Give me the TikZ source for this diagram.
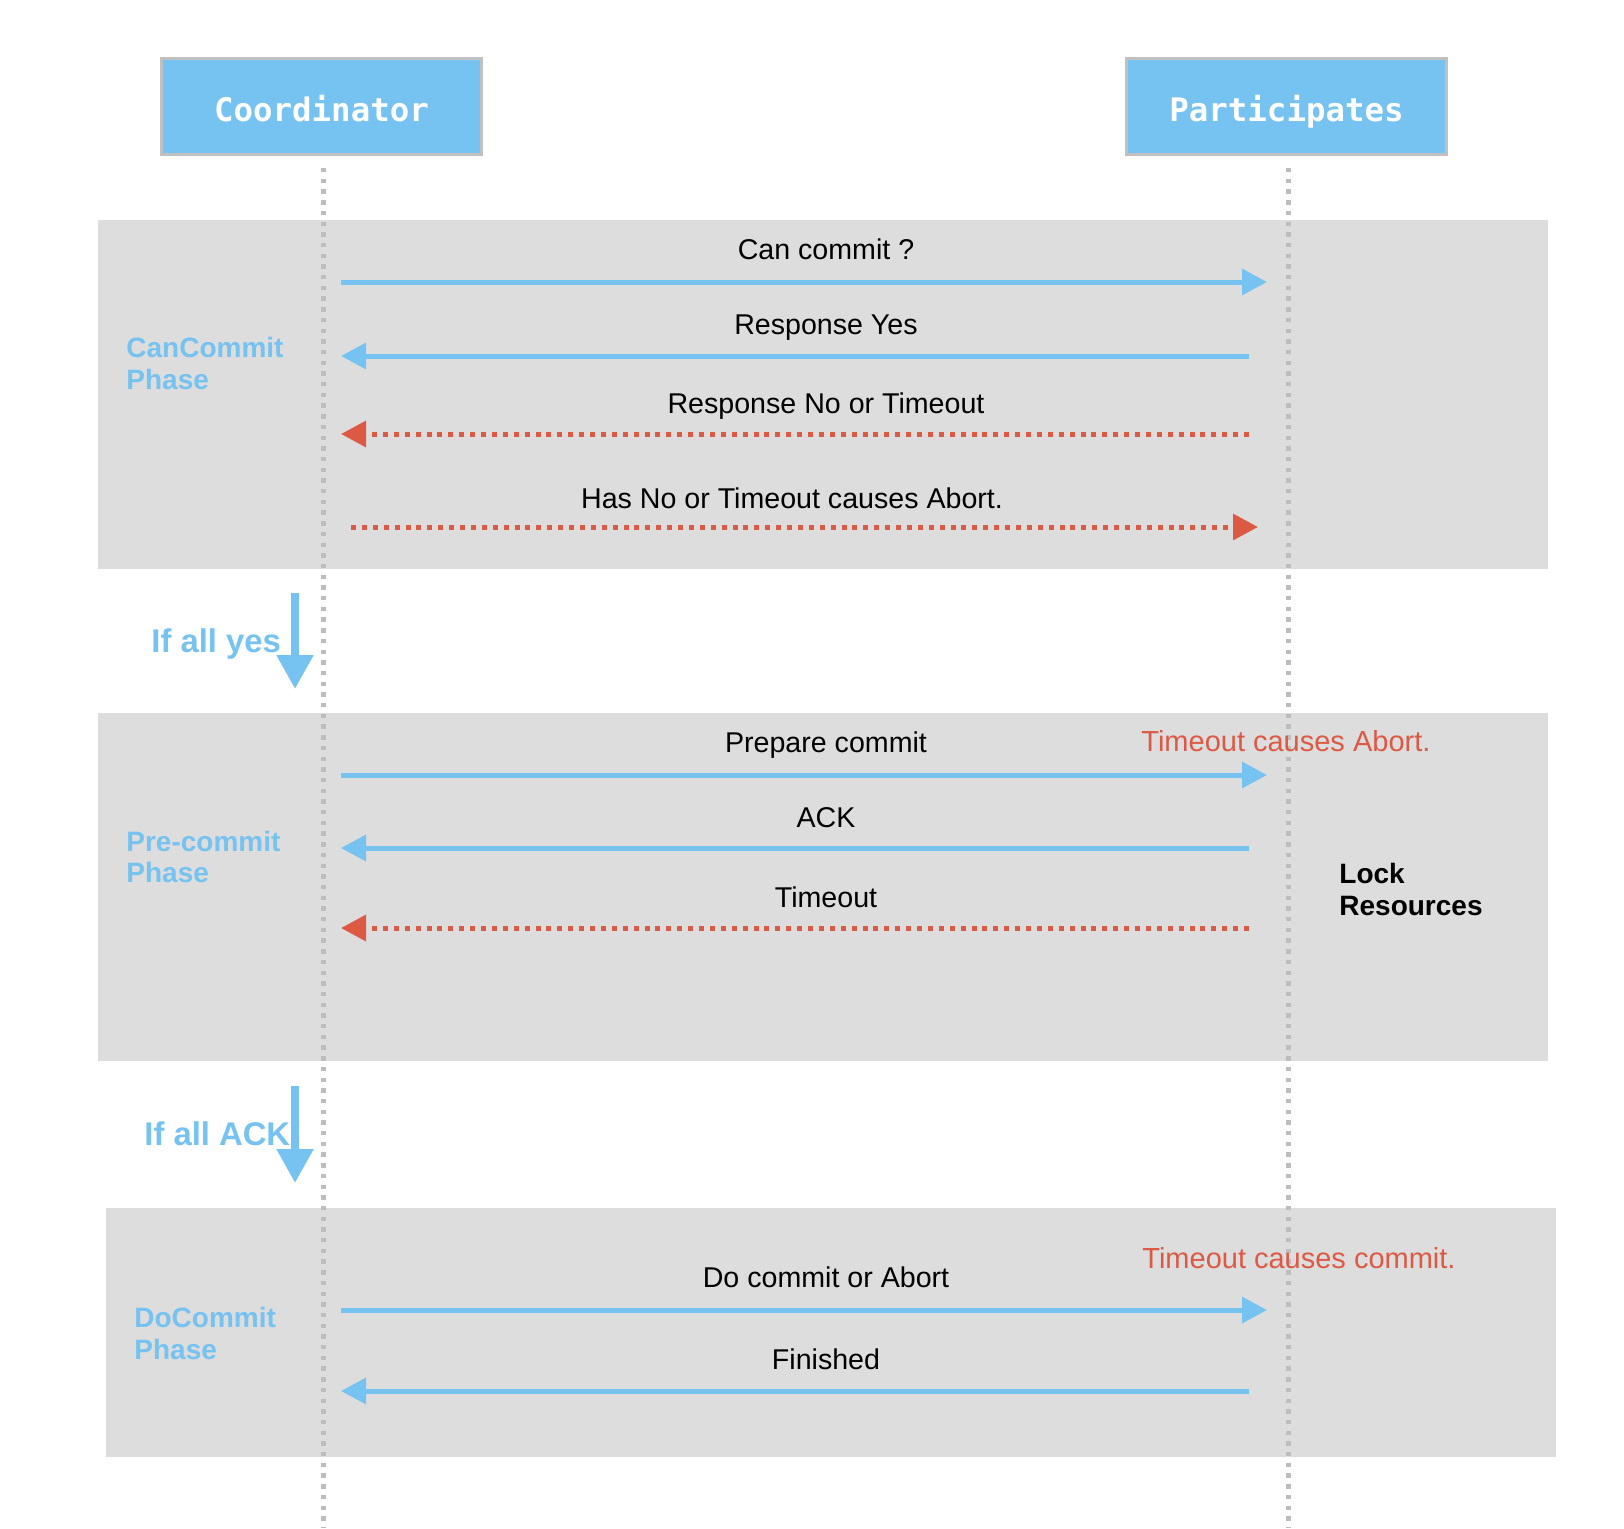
\documentclass[tikz,border=0pt]{standalone}
\usepackage{fontspec}
\setmainfont{Liberation Sans}
\newfontfamily\hdrfont{DejaVu Sans Mono}
\usetikzlibrary{arrows.meta}
\definecolor{sblue}{HTML}{76C2F0}
\definecolor{sred}{HTML}{DC5944}
\definecolor{band}{HTML}{DDDDDD}
\definecolor{lgray}{HTML}{BDBDBD}
\definecolor{hdrborder}{HTML}{C0C0C0}
\tikzset{
  hdrbox/.style={draw=hdrborder, line width=1.5pt, fill=sblue, text=white,
    minimum width=160pt, minimum height=48pt, inner sep=0pt,
    text height=15pt, text depth=0pt,
    font=\hdrfont\bfseries\fontsize{16.2pt}{18pt}\selectfont},
  bandfill/.style={fill=band},
  lifeline/.style={draw=lgray, line width=2.5pt, dash pattern=on 2.2pt off 3.15pt},
  msg/.style={draw=sblue, line width=2.5pt},
  reddot/.style={draw=sred, line width=2.5pt, dash pattern=on 2.5pt off 2.95pt},
  bluehead/.tip={Triangle[length=12.5pt,width=12.7pt,fill=sblue,color=sblue]},
  redhead/.tip={Triangle[length=12.5pt,width=12.7pt,fill=sred,color=sred]},
  bighead/.tip={Triangle[length=17pt,width=17.5pt,fill=sblue,color=sblue]},
  bigarrow/.style={draw=sblue, line width=4pt},
  msglabel/.style={anchor=base, inner sep=0pt, text=black,
    font=\fontsize{14.3pt}{16pt}\selectfont},
  rednote/.style={anchor=base west, inner sep=0pt, text=sred,
    font=\fontsize{14.5pt}{16pt}\selectfont},
  phaselabel/.style={anchor=base west, inner sep=0pt, text=sblue,
    font=\bfseries\fontsize{14pt}{16pt}\selectfont},
  condlabel/.style={anchor=base west, inner sep=0pt, text=sblue,
    font=\bfseries\fontsize{16.4pt}{18pt}\selectfont},
  locklabel/.style={anchor=base west, inner sep=0pt, text=black,
    font=\bfseries\fontsize{14pt}{16pt}\selectfont},
}
\begin{document}
\begin{tikzpicture}[x=0.5pt,y=-0.5pt]
\useasboundingbox (0,0) rectangle (1624,1528);
\fill[white] (0,0) rectangle (1624,1528);

% phase bands
\fill[bandfill] (98,220) rectangle (1548,569);
\fill[bandfill] (98,713) rectangle (1548,1061);
\fill[bandfill] (106,1208) rectangle (1556,1457);

% headers
\node[hdrbox] (coord) at (321.5,106.5) {Coordinator};
\node[hdrbox] (part) at (1286.5,106.5) {Participates};

% lifelines
\coordinate (cltop) at (323,168);
\coordinate (clbot) at (323,1528);
\coordinate (pltop) at (1288.5,168);
\coordinate (plbot) at (1288.5,1528);
\draw[lifeline] (cltop) -- (clbot);
\draw[lifeline] (pltop) -- (plbot);

% phase labels
\node[phaselabel] (p1a) at (126,357) {CanCommit};
\node[phaselabel] (p1b) at (126,389) {Phase};
\node[phaselabel] (p2a) at (126,851) {Pre-commit};
\node[phaselabel] (p2b) at (126,882) {Phase};
\node[phaselabel] (p3a) at (134,1327) {DoCommit};
\node[phaselabel] (p3b) at (134,1359) {Phase};

% CanCommit phase messages
\coordinate (m1s) at (341,282);  \coordinate (m1e) at (1267,282);
\coordinate (m2s) at (1249,356); \coordinate (m2e) at (341,356);
\coordinate (m3s) at (1249,434); \coordinate (m3e) at (341,434);
\coordinate (m4s) at (351,527);  \coordinate (m4e) at (1258,527);
\draw[msg,-bluehead] (m1s) -- (m1e);
\draw[msg,-bluehead] (m2s) -- (m2e);
\draw[reddot,-redhead] (m3s) -- (m3e);
\draw[reddot,-redhead] (m4s) -- (m4e);
\node[msglabel] (l1) at (826,259) {Can commit ?};
\node[msglabel] (l2) at (826,334) {Response Yes};
\node[msglabel] (l3) at (826,413) {Response No or Timeout};
\node[msglabel] (l4) at (792,508) {Has No or Timeout causes Abort.};

% If all yes
\coordinate (d1s) at (295,593); \coordinate (d1e) at (295,689);
\node[condlabel] (c1) at (151,652) {If all yes};
\draw[bigarrow,-bighead] (d1s) -- (d1e);

% Pre-commit phase messages
\coordinate (m5s) at (341,775);  \coordinate (m5e) at (1267,775);
\coordinate (m6s) at (1249,848); \coordinate (m6e) at (341,848);
\coordinate (m7s) at (1249,928); \coordinate (m7e) at (341,928);
\draw[msg,-bluehead] (m5s) -- (m5e);
\draw[msg,-bluehead] (m6s) -- (m6e);
\draw[reddot,-redhead] (m7s) -- (m7e);
\node[msglabel] (l5) at (826,752) {Prepare commit};
\node[msglabel] (l6) at (826,827) {ACK};
\node[msglabel] (l7) at (826,907) {Timeout};
\node[rednote] (n1) at (1141,751) {Timeout causes Abort.};
\node[locklabel] (k1) at (1339,883) {Lock};
\node[locklabel] (k2) at (1339,915) {Resources};

% If all ACK
\coordinate (d2s) at (295,1086); \coordinate (d2e) at (295,1183);
\node[condlabel] (c2) at (144,1145) {If all ACK};
\draw[bigarrow,-bighead] (d2s) -- (d2e);

% DoCommit phase messages
\coordinate (m8s) at (341,1310);  \coordinate (m8e) at (1267,1310);
\coordinate (m9s) at (1249,1391); \coordinate (m9e) at (341,1391);
\draw[msg,-bluehead] (m8s) -- (m8e);
\draw[msg,-bluehead] (m9s) -- (m9e);
\node[msglabel] (l8) at (826,1287) {Do commit or Abort};
\node[msglabel] (l9) at (826,1369) {Finished};
\node[rednote] (n2) at (1142,1268) {Timeout causes commit.};
\end{tikzpicture}
\end{document}
